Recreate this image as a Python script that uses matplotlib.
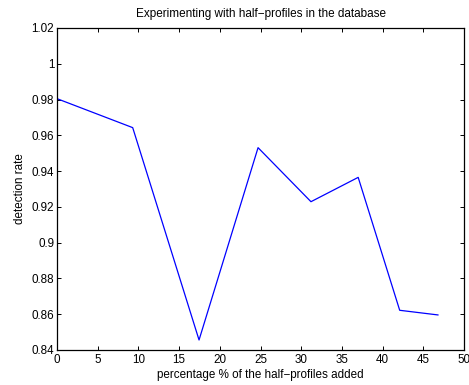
import numpy as np
import matplotlib.pyplot as plt

plt.rcParams['font.family'] = 'Liberation Sans'
plt.rcParams['font.size'] = 8.4

pct = [0, 9.3, 17.45, 24.7, 31.2, 37.0, 42.1, 46.8]
rate = [0.9805, 0.9643, 0.8456, 0.9531, 0.9229, 0.9365, 0.8622, 0.8596]

fig = plt.figure(figsize=(4.69, 3.85), dpi=100)
ax = fig.add_axes([57/469, 35/385, 407/469, 322/385])
ax.plot(pct, rate, color='#0000ff', lw=0.9)

ax.set_xlim(0, 50)
ax.set_ylim(0.84, 1.02)
ax.set_xticks(np.arange(0, 51, 5))
ax.set_yticks(np.arange(0.84, 1.021, 0.02))
ax.set_yticklabels(['0.84', '0.86', '0.88', '0.9', '0.92', '0.94', '0.96', '0.98', '1', '1.02'])
ax.tick_params(direction='in', top=True, right=True, length=3, width=0.7, pad=2)
ax.tick_params(axis='x', pad=3)
for s in ax.spines.values():
    s.set_linewidth(0.9)

ax.set_xlabel('percentage % of the half\u2212profiles added', labelpad=2)
ax.set_ylabel('detection rate', labelpad=4)
ax.set_title('Experimenting with half\u2212profiles in the database', fontsize=8.5, pad=8)

fig.savefig('out.png', dpi=100)
